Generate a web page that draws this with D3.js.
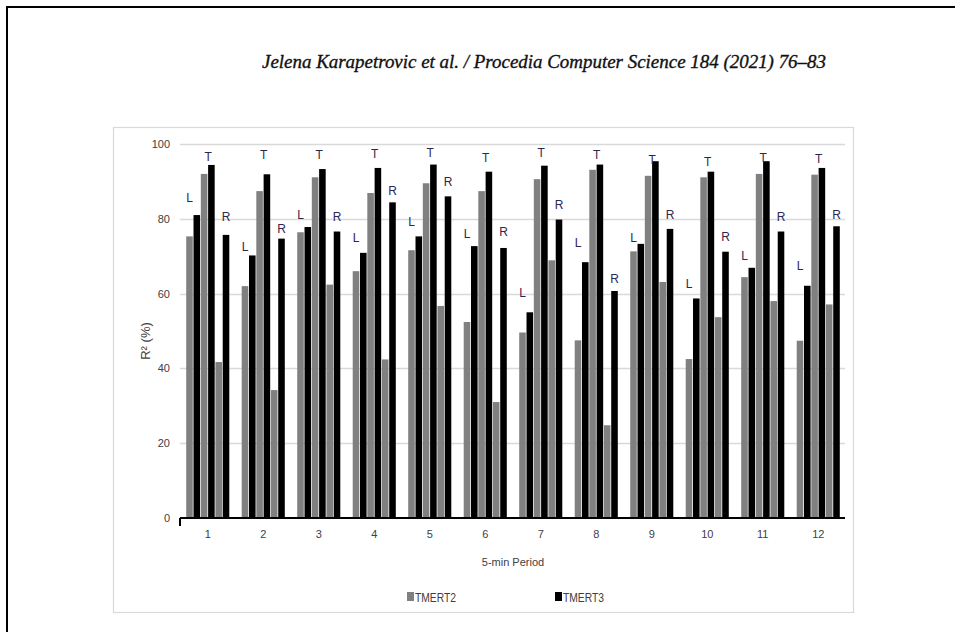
<!DOCTYPE html>
<html>
<head>
<meta charset="utf-8">
<script src="https://cdn.jsdelivr.net/npm/d3@7"></script>
<style>
  html, body { margin: 0; padding: 0; background: #fff; }
  svg { display: block; }
  text { font-family: "Liberation Sans", Arial, sans-serif; }
</style>
</head>
<body>
<svg id="chart" width="955" height="632"></svg>
<script>
// 5-minute periods on the x axis
const periods = ["1","2","3","4","5","6","7","8","9","10","11","12"];
const yTicks = [0, 20, 40, 60, 80, 100];
const seriesNames = ["TMERT2", "TMERT3"];
const movements = ["L", "T", "R"];

// R² (%) per period, per movement (L = left, T = through, R = right)
const tmert2L = [75.3, 62.0, 76.4, 66.0, 71.6, 52.4, 49.6, 47.5, 71.3, 42.5, 64.4, 47.4];
const tmert3L = [81.0, 70.2, 77.8, 70.9, 75.3, 72.7, 55.0, 68.4, 73.3, 58.7, 66.9, 62.1];
const tmert2T = [92.0, 87.4, 91.1, 86.9, 89.5, 87.4, 90.6, 93.1, 91.5, 91.1, 92.0, 91.8];
const tmert3T = [94.4, 91.9, 93.3, 93.6, 94.5, 92.6, 94.2, 94.5, 95.4, 92.6, 95.4, 93.6];
const tmert2R = [41.7, 34.2, 62.4, 42.4, 56.7, 31.0, 68.9, 24.8, 63.1, 53.7, 58.0, 57.1];
const tmert3R = [75.7, 74.7, 76.6, 84.4, 86.0, 72.2, 79.8, 60.7, 77.3, 71.2, 76.6, 78.0];

// level (in R² units) at which each movement letter is annotated
const markL = [85.8, 72.6, 81.2, 75.1, 79.4, 76.2, 60.2, 73.7, 75.0, 62.7, 70.2, 67.5];
const markT = [96.7, 97.2, 97.2, 97.4, 97.7, 96.5, 97.7, 97.2, 95.9, 95.2, 96.5, 96.0];
const markR = [80.6, 77.4, 80.6, 87.6, 90.1, 76.7, 83.8, 64.1, 81.2, 75.3, 80.6, 81.2];

const svg = d3.select("#chart");

// page frame and figure box
svg.append("rect").attr("x", 7).attr("y", 7).attr("width", 980).attr("height", 660)
  .attr("fill", "none").attr("stroke", "#000").attr("stroke-width", 2);
svg.append("rect").attr("x", 113.5).attr("y", 127.5).attr("width", 740).attr("height", 485)
  .attr("fill", "#fff").attr("stroke", "#d9d9d9").attr("stroke-width", 1.2);

// running header
svg.append("text")
  .attr("x", 262).attr("y", 68)
  .attr("textLength", 564).attr("lengthAdjust", "spacingAndGlyphs")
  .style("font-family", "'Liberation Serif', 'Times New Roman', serif")
  .style("font-style", "italic")
  .style("font-size", "19px")
  .attr("fill", "#111")
  .attr("stroke", "#111").attr("stroke-width", 0.35)
  .text("Jelena Karapetrovic  et al. / Procedia Computer Science 184 (2021) 76–83");

const plot = { left: 180, right: 846, top: 144, bottom: 518 };

const x = d3.scaleBand().domain(periods).range([plot.left, plot.right]).padding(0);
const y = d3.scaleLinear().domain([0, 100]).range([plot.bottom, plot.top]);

// six slots per period: L2, L3, T2, T3, R2, R3
const slots = ["L2", "L3", "T2", "T3", "R2", "R3"];
const xs = d3.scaleBand().domain(slots).range([0, x.bandwidth()])
  .paddingInner(0.1).paddingOuter(0.85);

// gridlines
svg.append("g").selectAll("line").data(yTicks.filter(t => t > 0)).join("line")
  .attr("x1", plot.left).attr("x2", plot.right - 1)
  .attr("y1", d => Math.round(y(d)) + 0.5).attr("y2", d => Math.round(y(d)) + 0.5)
  .attr("stroke", "#d9d9d9").attr("stroke-width", 1.3);

// y tick labels
const yAxis = d3.axisLeft(y).tickValues(yTicks).tickSize(0).tickPadding(10);
const gy = svg.append("g").attr("transform", `translate(${plot.left},0)`).call(yAxis);
gy.select(".domain").remove();
gy.selectAll("text").style("font-size", "11px").attr("fill", "#404040")
  .style("font-family", "'Liberation Sans', Arial, sans-serif");

// bars
const rows = periods.map((p, i) => ({
  period: p,
  values: [
    { slot: "L2", v: tmert2L[i], s: 0 },
    { slot: "L3", v: tmert3L[i], s: 1 },
    { slot: "T2", v: tmert2T[i], s: 0 },
    { slot: "T3", v: tmert3T[i], s: 1 },
    { slot: "R2", v: tmert2R[i], s: 0 },
    { slot: "R3", v: tmert3R[i], s: 1 }
  ],
  marks: [
    { m: "L", v: markL[i], at: xs("L2") + xs.bandwidth() / 2 },
    { m: "T", v: markT[i], at: xs("T3") },
    { m: "R", v: markR[i], at: xs("R3") + xs.bandwidth() / 2 }
  ]
}));

const colors = ["#808080", "#000000"];

const groups = svg.append("g").selectAll("g").data(rows).join("g")
  .attr("transform", d => `translate(${x(d.period)},0)`);

groups.selectAll("rect").data(d => d.values).join("rect")
  .attr("x", d => xs(d.slot))
  .attr("width", xs.bandwidth())
  .attr("y", d => y(d.v))
  .attr("height", d => y(0) - y(d.v))
  .attr("fill", d => colors[d.s]);

groups.selectAll("text").data(d => d.marks).join("text")
  .attr("x", d => d.at)
  .attr("y", d => y(d.v) + 4.5)
  .attr("text-anchor", "middle")
  .style("font-size", "12px")
  .attr("fill", "#2c2650")
  .text(d => d.m);

// x axis
const xAxis = d3.axisBottom(x).tickSize(0).tickPadding(12);
const gx = svg.append("g").attr("transform", `translate(0,${plot.bottom})`).call(xAxis);
gx.select(".domain").attr("stroke", "#000").attr("stroke-width", 2)
  .attr("d", `M${plot.left},0H${plot.right - 1}`);
gx.append("line").attr("x1", plot.left).attr("x2", plot.left)
  .attr("y1", 0).attr("y2", 8).attr("stroke", "#000").attr("stroke-width", 2);
gx.selectAll("text").style("font-size", "11px").attr("fill", "#404040")
  .style("font-family", "'Liberation Sans', Arial, sans-serif");

// axis titles
svg.append("text")
  .attr("x", (plot.left + plot.right) / 2).attr("y", 566)
  .attr("text-anchor", "middle")
  .style("font-size", "11px").attr("fill", "#404040")
  .text("5-min Period");

svg.append("text")
  .attr("transform", `translate(150,${(plot.top + plot.bottom) / 2 + 10}) rotate(-90)`)
  .attr("text-anchor", "middle")
  .style("font-size", "13px").attr("fill", "#404040")
  .text("R² (%)");

// legend
const legendX = [407, 555];
const legend = svg.append("g").selectAll("g").data(seriesNames).join("g")
  .attr("transform", (d, i) => `translate(${legendX[i]},597)`);
legend.append("rect").attr("x", 0).attr("y", -5).attr("width", 7).attr("height", 9)
  .attr("fill", (d, i) => colors[i]);
legend.append("text").attr("x", 8).attr("y", 5)
  .attr("textLength", 41).attr("lengthAdjust", "spacingAndGlyphs")
  .style("font-size", "13px").attr("fill", "#404040")
  .text(d => d);
</script>
</body>
</html>
